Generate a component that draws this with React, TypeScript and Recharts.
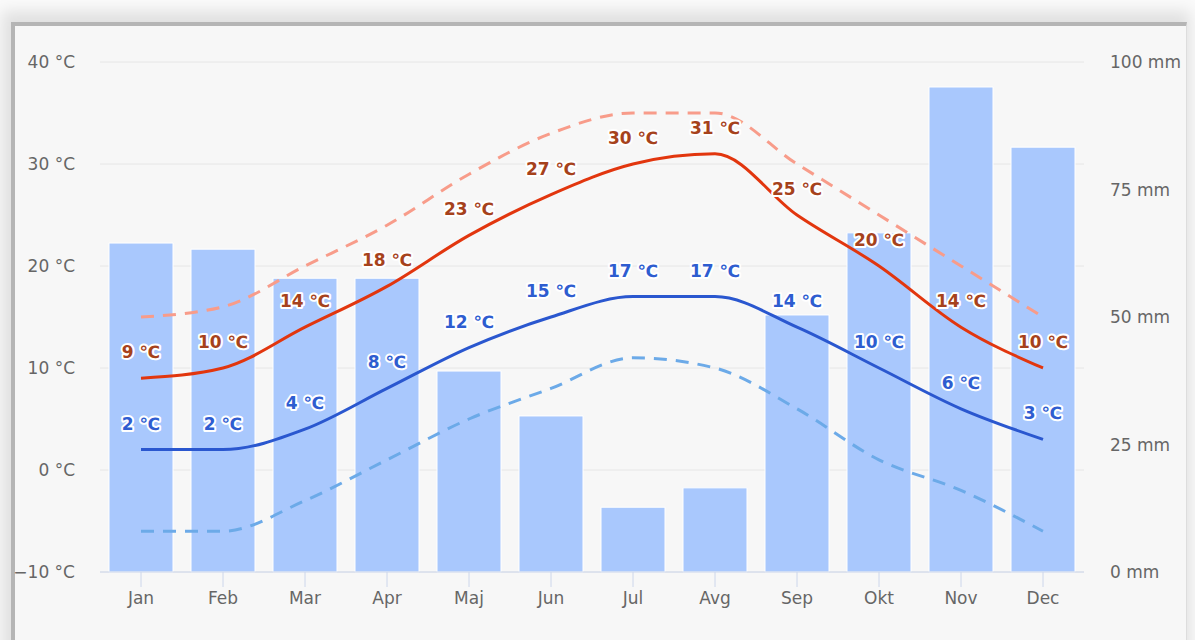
import React from 'react';
import {
  ComposedChart,
  Bar,
  Line,
  XAxis,
  YAxis,
  CartesianGrid,
  LabelList,
} from 'recharts';

const months = ['Jan', 'Feb', 'Mar', 'Apr', 'Maj', 'Jun', 'Jul', 'Avg', 'Sep', 'Okt', 'Nov', 'Dec'];
const precipitation = [64.5, 63.3, 57.6, 57.6, 39.4, 30.6, 12.7, 16.5, 50.4, 66.5, 95.1, 83.3];
const maxTemp = [9, 10, 14, 18, 23, 27, 30, 31, 25, 20, 14, 10];
const minTemp = [2, 2, 4, 8, 12, 15, 17, 17, 14, 10, 6, 3];
const recordHigh = [15, 16, 20, 24, 29, 33, 35, 35, 30, 25, 20, 15];
const recordLow = [-6, -6, -3, 1, 5, 8, 11, 10, 6, 1, -2, -6];
const tempTicks = [-10, 0, 10, 20, 30, 40];
const rainTicks = [0, 25, 50, 75, 100];

const data = months.map((month, i) => ({
  month,
  rain: precipitation[i],
  max: maxTemp[i],
  min: minTemp[i],
  high: recordHigh[i],
  low: recordLow[i],
}));

const axisColor = '#ccd6eb';
const labelColor = '#666666';

const fmtTemp = (v: number) => `${String(v).replace('-', '−')} °C`;
const fmtRain = (v: number) => `${v} mm`;

// data label drawn above each point, white halo like the original
const makeLabel = (color: string) => (props: any) => {
  const { x, y, value } = props;
  if (x == null || y == null) return null;
  return (
    <text
      x={x}
      y={y - 26}
      textAnchor="middle"
      dominantBaseline="central"
      fill={color}
      stroke="#ffffff"
      strokeWidth={4}
      strokeLinejoin="round"
      paintOrder="stroke"
      fontSize={17}
      fontWeight="bold"
    >
      {`${value} ℃`}
    </text>
  );
};

const App: React.FC = () => {
  return (
    <div
      style={{
        position: 'fixed',
        left: 0,
        top: 0,
        width: 1195,
        height: 640,
        background: '#fafafa',
        overflow: 'hidden',
        fontFamily: '"DejaVu Sans", Verdana, sans-serif',
      }}
    >
      <div
        style={{
          position: 'absolute',
          left: 11,
          top: 22,
          width: 1176,
          height: 660,
          background: '#f7f7f7',
          borderTop: '4px solid #b5b5b5',
          borderLeft: '4px solid #b5b5b5',
          borderRight: '1px solid #dddddd',
          boxShadow: '-3px -5px 14px 6px rgba(0,0,0,0.10)',
          boxSizing: 'border-box',
        }}
      />
      <div style={{ position: 'absolute', left: 0, top: 0 }}>
        <ComposedChart
          width={1195}
          height={640}
          data={data}
          margin={{ top: 62, right: 11, left: 20, bottom: 28 }}
        >
          <CartesianGrid yAxisId="left" vertical={false} stroke="#e6e6e6" />
          <XAxis
            dataKey="month"
            stroke={axisColor}
            tickSize={15}
            tickMargin={5}
            height={40}
            tick={{ fill: labelColor, fontSize: 17 }}
            tickLine={{ stroke: axisColor }}
            axisLine={{ stroke: axisColor }}
          />
          <YAxis
            yAxisId="left"
            domain={[-10, 40]}
            ticks={tempTicks}
            tickFormatter={fmtTemp}
            width={80}
            tickSize={0}
            tickMargin={25}
            axisLine={false}
            tickLine={false}
            tick={{ fill: labelColor, fontSize: 17 }}
          />
          <YAxis
            yAxisId="right"
            orientation="right"
            domain={[0, 100]}
            ticks={rainTicks}
            tickFormatter={fmtRain}
            width={100}
            tickSize={0}
            tickMargin={26}
            axisLine={false}
            tickLine={false}
            tick={{ fill: labelColor, fontSize: 17, textAnchor: 'start' }}
          />
          <Bar
            yAxisId="right"
            dataKey="rain"
            fill="#a9c8fd"
            stroke="#ffffff"
            strokeWidth={1}
            barSize={64}
            isAnimationActive={false}
          />
          <Line
            yAxisId="left"
            type="monotone"
            dataKey="high"
            stroke="#f89c8a"
            strokeWidth={3}
            strokeDasharray="13 9"
            dot={false}
            activeDot={false}
            isAnimationActive={false}
          />
          <Line
            yAxisId="left"
            type="monotone"
            dataKey="low"
            stroke="#6caae8"
            strokeWidth={3}
            strokeDasharray="13 9"
            dot={false}
            activeDot={false}
            isAnimationActive={false}
          />
          <Line
            yAxisId="left"
            type="monotone"
            dataKey="max"
            stroke="#e2360e"
            strokeWidth={3}
            dot={false}
            activeDot={false}
            isAnimationActive={false}
          >
            <LabelList dataKey="max" content={makeLabel('#a6421c')} />
          </Line>
          <Line
            yAxisId="left"
            type="monotone"
            dataKey="min"
            stroke="#2a57cf"
            strokeWidth={3}
            dot={false}
            activeDot={false}
            isAnimationActive={false}
          >
            <LabelList dataKey="min" content={makeLabel('#2e5dd0')} />
          </Line>
        </ComposedChart>
      </div>
    </div>
  );
};

export default App;
